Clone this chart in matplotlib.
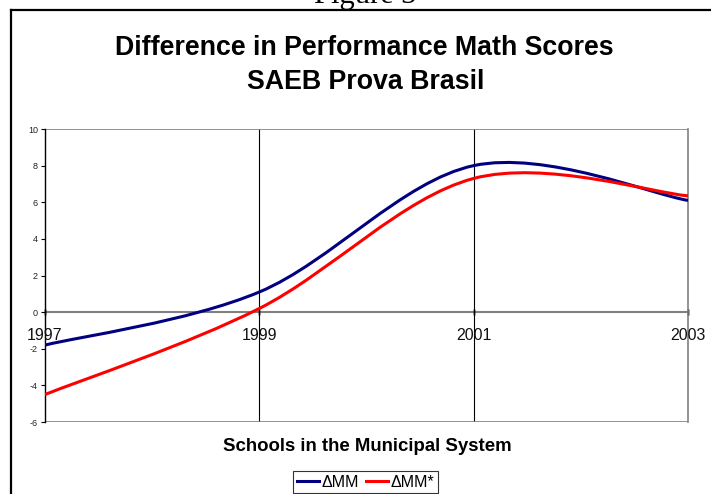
import matplotlib
matplotlib.use("Agg")
import matplotlib.pyplot as plt
from matplotlib.path import Path
from matplotlib.patches import PathPatch
from matplotlib.lines import Line2D
import matplotlib.transforms as mtrans
import numpy as np

years = [1997, 1999, 2001, 2003]
year_labels = ["1997", "1999", "2001", "2003"]
dmm = [-1.8, 1.1, 8.0, 6.1]
dmm_star = [-4.5, 0.2, 7.3, 6.35]
y_ticks = [-6, -4, -2, 0, 2, 4, 6, 8, 10]

plt.rcParams['font.family'] = ['Liberation Sans', 'DejaVu Sans']

fig = plt.figure(figsize=(7.11, 4.94), dpi=100)
W, H = 711, 494

def fx(px):
    return px / W

def fy(py):
    return 1 - py / H

ax = fig.add_axes([fx(45), fy(422), fx(688) - fx(45), fy(129) - fy(422)])
ax.set_xlim(1997, 2003)
ax.set_ylim(-6, 10)


def smooth_path(xs, ys):
    # Excel-style smoothed line: cubic Bezier segments through the data points
    pts = np.column_stack([xs, ys]).astype(float)
    n = len(pts)
    verts = [pts[0]]
    codes = [Path.MOVETO]
    for i in range(n - 1):
        p0 = pts[i - 1] if i > 0 else pts[i]
        p1 = pts[i]
        p2 = pts[i + 1]
        p3 = pts[i + 2] if i + 2 < n else pts[i + 1]
        c1 = p1 + (p2 - p0) / 6.0
        c2 = p2 - (p3 - p1) / 6.0
        verts += [c1, c2, p2]
        codes += [Path.CURVE4] * 3
    return Path(verts, codes)

# grid/border lines
for yr in years[1:3]:
    ax.axvline(yr, color='black', lw=0.8, zorder=1)
ax.axhline(10, color='#808080', lw=1.2, zorder=1)
ax.axhline(-6, color='#808080', lw=1.2, zorder=1)
ax.axhline(0, color='#808080', lw=1.5, zorder=1)

for vals, col in [(dmm, '#000080'), (dmm_star, '#FF0000')]:
    patch = PathPatch(smooth_path(years, vals), facecolor='none', edgecolor=col,
                      lw=2.2, zorder=3, capstyle='butt')
    ax.add_patch(patch)

for s in ['top', 'bottom']:
    ax.spines[s].set_visible(False)
ax.spines['right'].set_color('#808080')
ax.spines['right'].set_linewidth(1.2)
ax.spines['left'].set_color('black')
ax.spines['left'].set_linewidth(1.0)

ax.set_yticks(y_ticks)
ax.set_yticklabels([str(v) for v in y_ticks])
ax.tick_params(axis='y', labelsize=6.5, length=3, width=0.8, pad=2, direction='out',
               labelcolor='#222222')
ax.set_xticks([])

# category labels at the zero axis
offset = mtrans.ScaledTranslation(0, -23 / 100, fig.dpi_scale_trans)
for yr, lab in zip(years, year_labels):
    ax.text(yr, 0, lab, ha='center', va='center', fontsize=11.5,
            transform=ax.transData + offset, zorder=4, color='#111111')
    ax.plot([yr, yr], [0, 0], marker='|', markersize=4, color='black', zorder=2, clip_on=False)

fig.text(fx(364), fy(48), "Difference in Performance Math Scores", ha='center', va='center',
         fontsize=19.3, fontweight='bold')
fig.text(fx(366), fy(82), "SAEB Prova Brasil", ha='center', va='center',
         fontsize=19.3, fontweight='bold')
fig.text(fx(367), fy(446), "Schools in the Municipal System", ha='center', va='center',
         fontsize=13.4, fontweight='bold')
fig.text(fx(365), fy(2.5), "Figure 3", ha='center', va='baseline', fontsize=22,
         family=['Liberation Serif', 'DejaVu Serif'])

# outer frame
fig.add_artist(Line2D([fx(11), fx(11)], [fy(10), fy(500)], color='black', lw=1.6))
fig.add_artist(Line2D([fx(11), fx(720)], [fy(10), fy(10)], color='black', lw=1.6))

handles = [Line2D([], [], color='#000080', lw=2.2), Line2D([], [], color='#FF0000', lw=2.2)]
leg = fig.legend(handles, ['ΔMM', 'ΔMM*'], loc='center', bbox_to_anchor=(fx(365.5), fy(482)),
                 ncol=2, fontsize=11.5, frameon=True, fancybox=False, edgecolor='black',
                 handlelength=1.4, handletextpad=0.15, columnspacing=0.45, borderpad=0.2,
                 borderaxespad=0)
leg.get_frame().set_linewidth(0.8)

fig.savefig("out.png", dpi=100)
